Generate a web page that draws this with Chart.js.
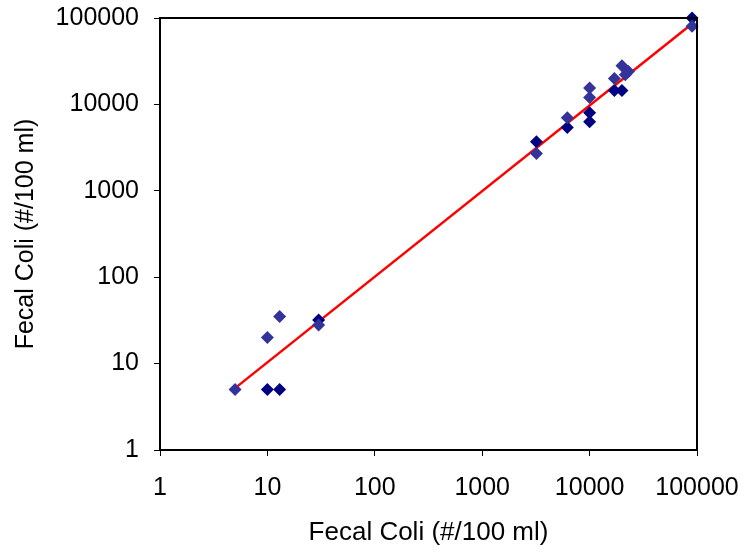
<!DOCTYPE html>
<html>
<head>
<meta charset="utf-8">
<script src="https://cdn.jsdelivr.net/npm/chart.js@4"></script>
<style>
  html, body { margin: 0; padding: 0; background: #fff; }
  #wrap { width: 746px; height: 552px; }
</style>
</head>
<body>
<div id="wrap"><canvas id="chart" width="746" height="552"></canvas></div>
<script>
// readings (log-log)
const darkX = [10, 13, 30, 3200, 6200, 10000, 10000, 17000, 20000, 90000];
const darkY = [5, 5, 32, 3700, 5400, 8000, 6300, 14500, 14500, 100000];
const lightX = [5, 10, 13, 30, 3200, 6200, 10000, 10000, 17000, 20000, 21500, 23000, 90000];
const lightY = [5, 20, 35, 28, 2700, 7000, 12000, 15500, 20000, 28000, 22000, 24000, 80000];
const fitX = [5, 90000];
const fitY = [5.2, 86000];
const tickValues = [1, 10, 100, 1000, 10000, 100000];
const axisTitle = "Fecal Coli (#/100 ml)";

function pairs(xs, ys) {
  return xs.map((x, i) => ({ x: x, y: ys[i] }));
}

// full black box round the plot area
const frame = {
  id: 'frame',
  afterDatasetsDraw(chart) {
    const a = chart.chartArea, ctx = chart.ctx;
    ctx.save();
    ctx.strokeStyle = '#000';
    ctx.lineWidth = 2;
    ctx.strokeRect(a.left, a.top, a.right - a.left, a.bottom - a.top);
    ctx.restore();
  }
};

const family = "'Liberation Sans', Arial, sans-serif";

function logAxis(pos) {
  return {
    type: 'logarithmic',
    position: pos,
    min: 1,
    max: 100000,
    border: { color: '#000', width: 2 },
    grid: { drawOnChartArea: false, drawTicks: true, tickLength: 6, color: '#000', lineWidth: 1 },
    ticks: {
      color: '#000',
      font: { family: family, size: 25 },
      padding: pos === 'left' ? 15 : 17,
      autoSkip: false,
      maxRotation: 0,
      callback: v => String(v)
    },
    afterBuildTicks: s => { s.ticks = tickValues.map(v => ({ value: v })); },
    title: {
      display: true,
      text: axisTitle,
      color: '#000',
      font: { family: family, size: pos === 'left' ? 25 : 26 },
      padding: pos === 'left' ? { top: 11, bottom: 0 } : { top: 0, bottom: 4 }
    }
  };
}

const xAxis = logAxis('bottom');
xAxis.afterFit = s => { s.height = 102; s.paddingLeft = 0; s.paddingRight = 0; };
const yAxis = logAxis('left');
yAxis.afterFit = s => { s.width = 160; s.paddingTop = 0; s.paddingBottom = 0; };

new Chart(document.getElementById('chart').getContext('2d'), {
  type: 'scatter',
  data: {
    datasets: [
      {
        label: 'B',
        data: pairs(lightX, lightY),
        pointStyle: 'rectRot',
        pointRadius: 6.5,
        backgroundColor: '#333399',
        borderColor: '#333399',
        borderWidth: 0,
        clip: false,
        order: 1
      },
      {
        label: 'A',
        data: pairs(darkX, darkY),
        pointStyle: 'rectRot',
        pointRadius: 6.5,
        backgroundColor: '#000080',
        borderColor: '#000080',
        borderWidth: 0,
        clip: false,
        order: 2
      },
      {
        label: 'fit',
        data: pairs(fitX, fitY),
        showLine: true,
        borderColor: '#ff0000',
        borderWidth: 2.5,
        pointRadius: 0,
        order: 3
      }
    ]
  },
  options: {
    responsive: false,
    animation: false,
    layout: { padding: { top: 18, right: 49, left: 0, bottom: 0 } },
    plugins: { legend: { display: false }, tooltip: { enabled: false } },
    scales: { x: xAxis, y: yAxis }
  },
  plugins: [frame]
});
</script>
</body>
</html>
